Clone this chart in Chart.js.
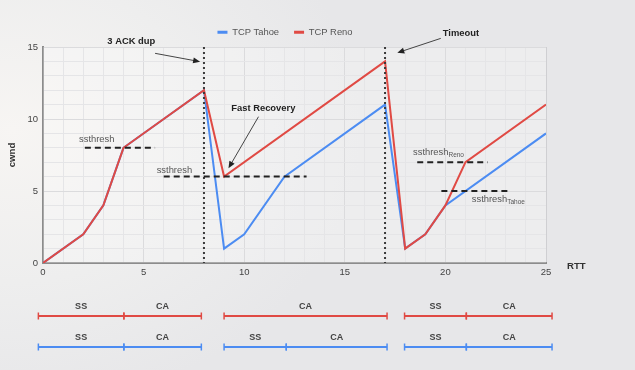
<!DOCTYPE html>
<html>
<head>
<meta charset="utf-8">
<script src="https://cdn.jsdelivr.net/npm/chart.js@4.4.0/dist/chart.umd.min.js"></script>
<style>
  html, body { margin: 0; padding: 0; }
  body {
    width: 635px; height: 370px; overflow: hidden;
    background: radial-gradient(ellipse 55% 75% at 2% 35%, #f7f5f3 0%, #eeeeee 55%, #e7e7e9 100%);
  }
  #wrap { position: relative; width: 635px; height: 370px; }
</style>
</head>
<body>
<div id="wrap"><canvas id="cwndChart"></canvas></div>
<script>
// Congestion window per RTT (breakpoints)
const rttReno = [0, 2, 3, 4, 8, 9, 17, 18, 19, 20, 21, 25];
const cwndReno = [0, 2, 4, 8, 12, 6, 14, 1, 2, 4, 7, 11];
const rttTahoe = [0, 2, 3, 4, 8, 9, 10, 12, 17, 18, 19, 20, 25];
const cwndTahoe = [0, 2, 4, 8, 12, 1, 2, 6, 11, 1, 2, 4, 9];

const xTicks = [0, 5, 10, 15, 20, 25];
const yTicks = [0, 5, 10, 15];

// loss events (dotted) and thresholds (dashed)
const lossEvents = [8, 17];
const thresholds = [
    { y: 8, from: 2.08, to: 5.57 },
    { y: 6, from: 6.0, to: 13.1 },
    { y: 7, from: 18.6, to: 22.1 },
    { y: 5, from: 19.8, to: 23.25 }
];
const thresholdLabels = [
    { x: 1.79, y: 8.6, text: 'ssthresh', sub: '' },
    { x: 5.65, y: 6.46, text: 'ssthresh', sub: '' },
    { x: 18.39, y: 7.66, text: 'ssthresh', sub: 'Reno' },
    { x: 21.31, y: 4.42, text: 'ssthresh', sub: 'Tahoe' }
];
const callouts = [
    { text: '3 ACK dup', x: 4.39, y: 15.37, from: [5.57, 14.56], to: [7.81, 13.98] },
    { text: 'Fast Recovery', x: 10.95, y: 10.74, from: [10.71, 10.16], to: [9.22, 6.58] },
    { text: 'Timeout', x: 20.77, y: 15.95, from: [19.77, 15.6], to: [17.61, 14.6] }
];

// phase bars under the chart: [label, start RTT, end RTT]
const renoPhases = [['SS', -0.23, 4.02], ['CA', 4.02, 7.87], ['CA', 9.0, 17.1], ['SS', 17.97, 21.04], ['CA', 21.04, 25.3]];
const tahoePhases = [['SS', -0.23, 4.02], ['CA', 4.02, 7.87], ['SS', 9.0, 12.09], ['CA', 12.09, 17.1], ['SS', 17.97, 21.04], ['CA', 21.04, 25.3]];

const RED = '#e04a44';
const BLUE = '#4c8cf2';
const FONT = 'Liberation Sans, Arial, sans-serif';

const toPoints = (xs, ys) => xs.map((x, i) => ({ x: x, y: ys[i] }));
const gridColor = c => (c.tick && c.tick.value % 5 === 0) ? '#cfcfd2' : '#dcdcdf';

const extras = {
    id: 'extras',
    beforeDatasetsDraw(chart) {
        const { ctx, chartArea: a } = chart;
        ctx.save();
        ctx.fillStyle = 'rgba(255,255,255,0.25)';
        ctx.fillRect(a.left, a.top, a.right - a.left, a.bottom - a.top);
        ctx.restore();
    },
    afterDatasetsDraw(chart) {
        const { ctx, chartArea: a } = chart;
        const sx = chart.scales.x, sy = chart.scales.y;
        const X = v => sx.getPixelForValue(v);
        const Y = v => sy.getPixelForValue(v);
        ctx.save();

        // dotted lines at loss events
        ctx.strokeStyle = '#3a3a3a';
        ctx.lineWidth = 2;
        ctx.setLineDash([2, 3]);
        lossEvents.forEach(e => {
            ctx.beginPath();
            ctx.moveTo(X(e), Y(15));
            ctx.lineTo(X(e), Y(0));
            ctx.stroke();
        });

        // dashed ssthresh lines
        ctx.strokeStyle = '#222';
        ctx.setLineDash([6, 4]);
        thresholds.forEach(t => {
            ctx.beginPath();
            ctx.moveTo(X(t.from), Y(t.y));
            ctx.lineTo(X(t.to), Y(t.y));
            ctx.stroke();
        });
        ctx.setLineDash([]);

        // ssthresh labels
        ctx.fillStyle = '#555';
        ctx.textBaseline = 'middle';
        ctx.textAlign = 'left';
        thresholdLabels.forEach(l => {
            ctx.font = '9.4px ' + FONT;
            ctx.fillText(l.text, X(l.x), Y(l.y));
            if (l.sub) {
                const w = ctx.measureText(l.text).width;
                ctx.font = '6.5px ' + FONT;
                ctx.fillText(l.sub, X(l.x) + w, Y(l.y) + 3);
            }
        });

        // callouts with arrows
        ctx.font = 'bold 9.4px ' + FONT;
        ctx.textAlign = 'center';
        callouts.forEach(c => {
            ctx.fillStyle = '#222';
            ctx.fillText(c.text, X(c.x), Y(c.y));
            const x1 = X(c.from[0]), y1 = Y(c.from[1]);
            const x2 = X(c.to[0]), y2 = Y(c.to[1]);
            const ang = Math.atan2(y2 - y1, x2 - x1);
            ctx.strokeStyle = '#444';
            ctx.lineWidth = 1;
            ctx.beginPath();
            ctx.moveTo(x1, y1);
            ctx.lineTo(x2 - 4 * Math.cos(ang), y2 - 4 * Math.sin(ang));
            ctx.stroke();
            ctx.fillStyle = '#222';
            ctx.beginPath();
            ctx.moveTo(x2, y2);
            ctx.lineTo(x2 - 7 * Math.cos(ang) + 3 * Math.sin(ang), y2 - 7 * Math.sin(ang) - 3 * Math.cos(ang));
            ctx.lineTo(x2 - 7 * Math.cos(ang) - 3 * Math.sin(ang), y2 - 7 * Math.sin(ang) + 3 * Math.cos(ang));
            ctx.closePath();
            ctx.fill();
        });

        // axis titles
        ctx.fillStyle = '#333';
        ctx.font = 'bold 9.6px ' + FONT;
        ctx.textAlign = 'left';
        ctx.fillText('RTT', a.right + 21, a.bottom + 3);
        ctx.save();
        ctx.translate(12, (a.top + a.bottom) / 2);
        ctx.rotate(-Math.PI / 2);
        ctx.textAlign = 'center';
        ctx.fillText('cwnd', 0, 0);
        ctx.restore();

        // phase bars
        const drawRow = (phases, color, rowY) => {
            phases.forEach(p => {
                const x1 = X(p[1]), x2 = X(p[2]);
                ctx.strokeStyle = color;
                ctx.lineWidth = 2;
                ctx.beginPath();
                ctx.moveTo(x1, rowY);
                ctx.lineTo(x2, rowY);
                ctx.stroke();
                ctx.lineWidth = 1.5;
                [x1, x2].forEach(t => {
                    ctx.beginPath();
                    ctx.moveTo(t, rowY - 3.5);
                    ctx.lineTo(t, rowY + 3.5);
                    ctx.stroke();
                });
                ctx.fillStyle = '#444';
                ctx.font = 'bold 9px ' + FONT;
                ctx.textAlign = 'center';
                ctx.fillText(p[0], (x1 + x2) / 2, rowY - 9.5);
            });
        };
        drawRow(renoPhases, RED, a.bottom + 53);
        drawRow(tahoePhases, BLUE, a.bottom + 84);

        ctx.restore();
    }
};

const ctx = document.getElementById('cwndChart').getContext('2d');

new Chart(ctx, {
    type: 'line',
    data: {
        datasets: [{
            label: 'TCP Reno',
            data: toPoints(rttReno, cwndReno),
            borderColor: RED,
            backgroundColor: RED,
            borderWidth: 2,
            pointRadius: 0,
            tension: 0
        }, {
            label: 'TCP Tahoe',
            data: toPoints(rttTahoe, cwndTahoe),
            borderColor: BLUE,
            backgroundColor: BLUE,
            borderWidth: 2,
            pointRadius: 0,
            tension: 0
        }]
    },
    options: {
        responsive: true,
        maintainAspectRatio: false,
        animation: false,
        layout: { padding: { left: 24, right: 89, top: 7.5, bottom: 0 } },
        scales: {
            x: {
                type: 'linear',
                min: 0,
                max: 25,
                afterFit(scale) { scale.height = 107; },
                ticks: {
                    stepSize: 1,
                    autoSkip: false,
                    maxRotation: 0,
                    padding: 4,
                    color: '#444',
                    font: { family: FONT, size: 9.5 },
                    callback: v => xTicks.includes(v) ? String(v) : ''
                },
                grid: { drawTicks: false, color: gridColor },
                border: { color: '#8c8c8c', width: 2 }
            },
            y: {
                min: 0,
                max: 15,
                // keep the plot top a few pixels below the legend
                afterFit(scale) { scale.width = 19; scale.paddingTop = 47; },
                ticks: {
                    stepSize: 1,
                    autoSkip: false,
                    padding: 5,
                    color: '#444',
                    font: { family: FONT, size: 9.5 },
                    callback: v => yTicks.includes(v) ? String(v) : ''
                },
                grid: { drawTicks: false, color: gridColor },
                border: { color: '#8c8c8c', width: 2 }
            }
        },
        plugins: {
            legend: {
                position: 'top',
                reverse: true,
                labels: {
                    boxWidth: 10,
                    boxHeight: 3,
                    padding: 15,
                    color: '#555',
                    font: { family: FONT, size: 9.4 },
                    generateLabels: chart => Chart.defaults.plugins.legend.labels.generateLabels(chart)
                        .map(l => Object.assign(l, { lineWidth: 0 }))
                }
            },
            tooltip: { enabled: false }
        }
    },
    plugins: [extras]
});
</script>
</body>
</html>
